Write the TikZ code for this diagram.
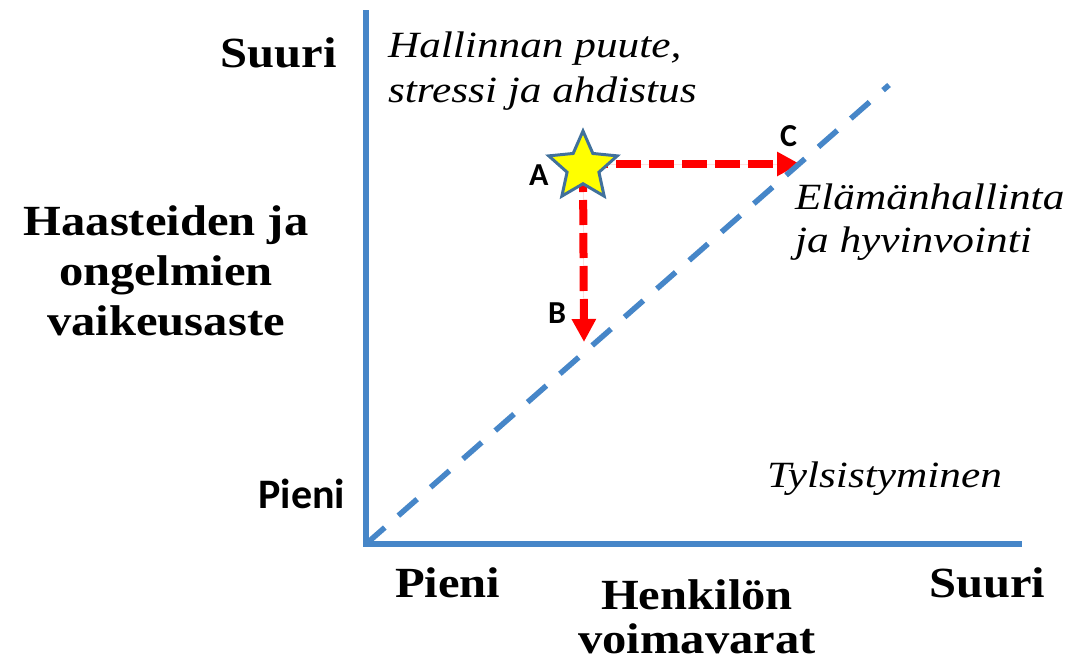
\documentclass[tikz,border=0pt]{standalone}
\usepackage{fontspec}
\setmainfont{Liberation Serif}
\newfontfamily\gbf[FakeStretch=1.13]{Liberation Serif Bold}
\newfontfamily\git[FakeStretch=1.17]{Liberation Serif Italic}
\newfontfamily\carlito{Carlito Bold}
\usetikzlibrary{arrows.meta,shapes.geometric,backgrounds}
\definecolor{axisblue}{RGB}{70,134,200}
\definecolor{starblue}{RGB}{65,113,156}
\definecolor{starfill}{RGB}{255,255,0}
\tikzset{
  txt/.style={inner sep=0pt, outer sep=0pt},
  boldlbl/.style={txt, font=\gbf\fontsize{43}{50}\selectfont},
  itlbl/.style={txt, font=\git\fontsize{37}{45}\selectfont, align=left},
  sanslbl/.style={txt, font=\carlito\fontsize{42}{48}\selectfont},
  letterlbl/.style={txt, font=\carlito\fontsize{32}{36}\selectfont},
  axisline/.style={draw=axisblue, line width=6pt, line join=miter},
  diagline/.style={draw=axisblue, line width=5.5pt, dash pattern=on 25pt off 18pt},
  redarrow/.style={draw=red, line width=8pt, dash pattern=on 25pt off 8pt,
     -{Triangle[length=23pt,width=23pt]}, fill=red},
  starnode/.style={star, star points=5, star point ratio=2.15, minimum size=72pt,
     inner sep=0pt, fill=starfill, draw=starblue, line width=3pt}
}
\begin{document}
\begin{tikzpicture}[x=1pt,y=-1pt]
\useasboundingbox (0,0) rectangle (1068,664);
% coordinates
\coordinate (O) at (366,544);
\coordinate (Ytop) at (366,10);
\coordinate (Xend) at (1022,544);
\coordinate (Dend) at (889,85);
\coordinate (Btip) at (584,342);
\coordinate (Ctip) at (800,164);
% star
\node[starnode] (star) at (583,167) {};
\begin{pgfonlayer}{background}
  \draw[redarrow] (star.center) -- (Btip);
  \draw[redarrow] (star.center |- Ctip) -- (Ctip);
  \draw[diagline] (O) -- (Dend);
  \draw[axisline] (Ytop) -- (O) -- (Xend);
\end{pgfonlayer}
% letters
\node[letterlbl, anchor=base west] (la) at (529,185) {A};
\node[letterlbl, anchor=base west] (lb) at (548,323) {B};
\node[letterlbl, anchor=base west] (lc) at (780,146) {C};
% axis labels
\node[boldlbl, anchor=base east] (ysuuri) at (337,67) {Suuri};
\node[sanslbl, anchor=base east] (ypieni) at (345,508) {Pieni};
\node[boldlbl, anchor=base, align=center] (ytitle) at (166,335) {Haasteiden ja\\ongelmien\\vaikeusaste};
\node[boldlbl, anchor=base west] (xpieni) at (395,597) {Pieni};
\node[boldlbl, anchor=base west] (xsuuri) at (929,597) {Suuri};
\node[boldlbl, anchor=base, align=center, font=\gbf\fontsize{43}{44}\selectfont] (xtitle) at (697,653) {Henkilön\\voimavarat};
% region labels
\node[itlbl, anchor=base west] (stress) at (388,102) {Hallinnan puute,\\stressi ja ahdistus};
\node[itlbl, anchor=base west, font=\git\fontsize{37}{43}\selectfont] (hyvin) at (795,252) {Elämänhallinta\\ja hyvinvointi};
\node[itlbl, anchor=base west] (tyls) at (767,487) {Tylsistyminen};
\end{tikzpicture}
\end{document}
